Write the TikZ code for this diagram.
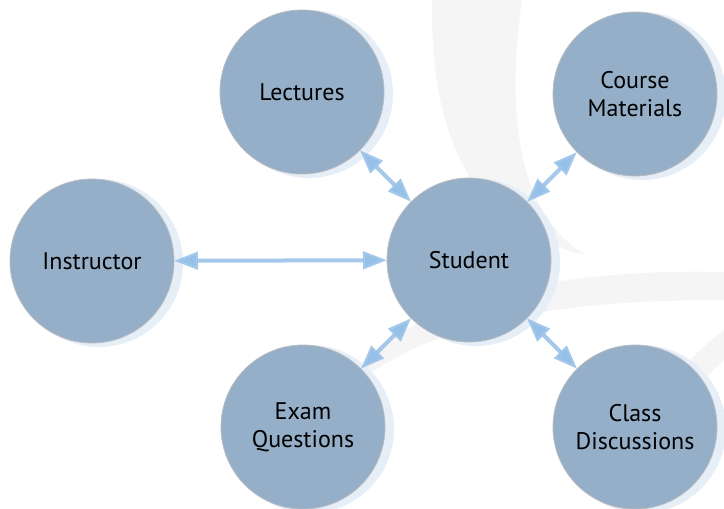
\documentclass[tikz,border=0pt]{standalone}
\usepackage{fontspec}
\setmainfont{PT Sans}
\usetikzlibrary{arrows.meta}

\definecolor{bubble}{RGB}{149,175,201}
\definecolor{rim}{RGB}{185,188,192}
\definecolor{halo}{RGB}{230,238,247}
\definecolor{link}{RGB}{150,192,232}
\definecolor{swirl}{RGB}{245,245,245}

\tikzset{
  topic/.style={circle, fill=bubble, draw=rim, line width=0.6pt, minimum size=123pt,
    inner sep=0pt, outer sep=0pt, align=center, font=\fontsize{18}{21}\selectfont},
  glow/.style={circle, fill=halo, minimum size=126pt, inner sep=0pt},
  link/.style={<->, >={Triangle[length=18pt,width=13pt]}, draw=link, line width=3pt, draw opacity=0.85}
}

\begin{document}
\begin{tikzpicture}[x=0.75pt,y=-0.75pt]
  \useasboundingbox (0,0) rectangle (724,508);
  % faint swirl behind
  \fill[swirl] (432,0) .. controls (430,150) and (480,230) .. (585,255)
    .. controls (520,215) and (505,120) .. (522,0) -- cycle;
  \fill[swirl] (338,400) .. controls (380,300) and (560,268) .. (724,272)
    -- (724,300) .. controls (560,300) and (420,320) .. (338,400) -- cycle;
  \fill[swirl] (724,330) .. controls (660,380) and (620,440) .. (612,508)
    -- (640,508) .. controls (650,440) and (690,390) .. (724,360) -- cycle;

  % soft halos
  \foreach \x/\y in {302/92, 635/94, 469/260, 92/261, 303/427, 635/427}
    \node[glow] at (\x+7,\y+2) {};

  \node[topic] (lectures)  at (302,92)  {Lectures};
  \node[topic] (materials) at (635,94)  {Course\\Materials};
  \node[topic] (student)   at (469,260) {Student};
  \node[topic] (instructor) at (92,261) {Instructor};
  \node[topic] (exam)      at (303,427) {Exam\\Questions};
  \node[topic] (class)     at (635,427) {Class\\Discussions};

  \draw[link] (lectures) -- (student);
  \draw[link] (student) -- (materials);
  \draw[link] (instructor) -- (student);
  \draw[link] (exam) -- (student);
  \draw[link] (student) -- (class);
\end{tikzpicture}
\end{document}
